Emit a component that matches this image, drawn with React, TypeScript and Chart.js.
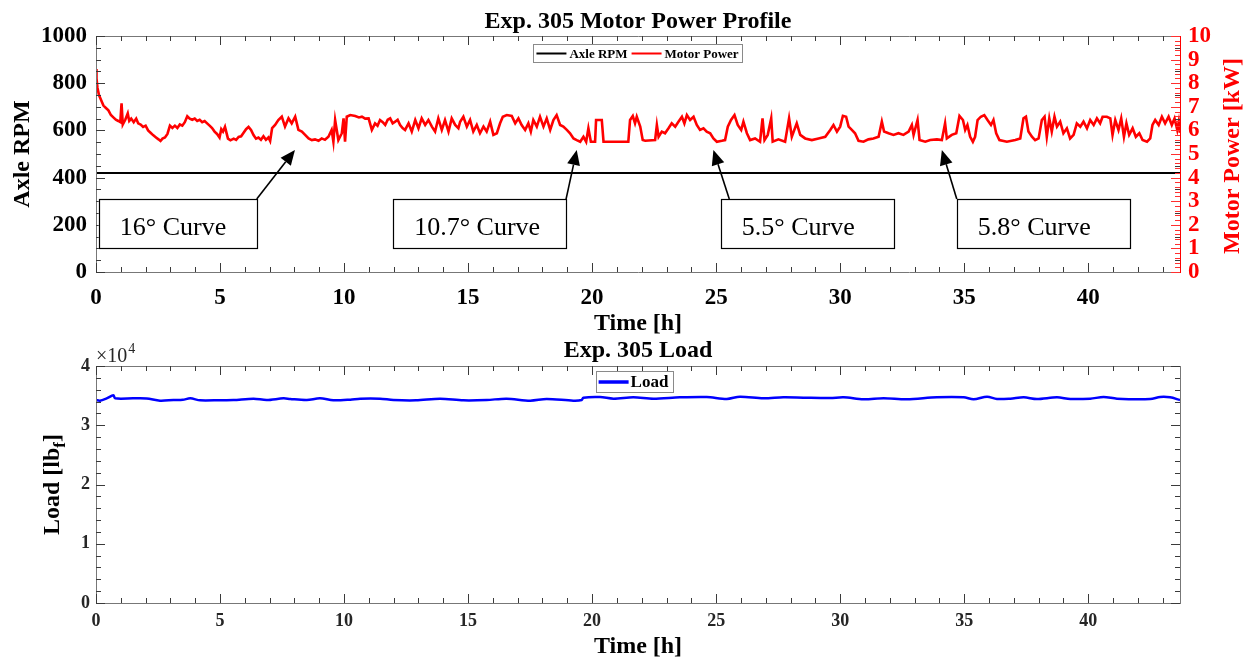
import React, { useEffect, useRef } from "react";
import { Chart, registerables } from "chart.js";

Chart.register(...registerables);

const SERIF = "'Liberation Serif', 'Times New Roman', Times, serif";

// ---------------- data ----------------
const timeMax = 43.7;

const axleRpmTime = [0, 43.7];
const axleRpmValues = [420, 420];

// Motor power [kW] vs time [h]
const motorPower: number[][] = [
  [0, 8.6], [0.02, 8.2], [0.06, 7.8], [0.12, 7.5], [0.2, 7.3], [0.3, 7.05], [0.4, 6.95], [0.5, 6.85], [0.6, 6.65],
  [0.7, 6.55], [0.8, 6.45], [0.9, 6.4], [0.98, 6.35], [1.03, 7.15], [1.08, 6.25], [1.18, 6.45], [1.28, 6.72],
  [1.34, 6.4], [1.42, 6.5], [1.52, 6.35], [1.62, 6.5], [1.7, 6.3], [1.8, 6.25], [1.9, 6.15], [2.0, 6.2], [2.1, 6.0],
  [2.2, 5.9], [2.3, 5.8], [2.42, 5.7], [2.52, 5.62], [2.6, 5.55], [2.68, 5.65], [2.78, 5.7], [2.88, 5.85], [2.98, 6.2],
  [3.08, 6.1], [3.18, 6.2], [3.28, 6.1], [3.38, 6.25], [3.48, 6.2], [3.58, 6.35], [3.68, 6.6], [3.78, 6.5], [3.88, 6.45],
  [3.98, 6.5], [4.08, 6.4], [4.18, 6.45], [4.28, 6.35], [4.38, 6.4], [4.48, 6.3], [4.58, 6.2], [4.68, 6.1], [4.78, 5.95],
  [4.88, 5.85], [4.98, 5.7], [5.05, 6.05], [5.12, 5.95], [5.2, 6.15], [5.32, 5.65], [5.42, 5.58], [5.55, 5.65],
  [5.65, 5.6], [5.75, 5.72], [5.85, 5.75], [5.95, 5.9], [6.05, 6.05], [6.15, 6.15], [6.25, 6.02], [6.35, 5.8],
  [6.45, 5.65], [6.55, 5.7], [6.65, 5.6], [6.75, 5.75], [6.85, 5.6], [6.95, 5.7], [7.02, 5.55], [7.1, 6.1],
  [7.22, 6.23], [7.35, 6.44], [7.49, 6.58], [7.62, 6.16], [7.76, 6.51], [7.89, 6.3], [8.03, 6.58], [8.16, 6.02],
  [8.3, 5.95], [8.43, 5.81], [8.57, 5.66], [8.7, 5.59], [8.83, 5.62], [8.97, 5.56], [9.1, 5.66], [9.23, 5.6],
  [9.37, 5.73], [9.5, 6.02], [9.57, 5.52], [9.64, 6.44], [9.77, 5.59], [9.91, 5.88], [9.98, 6.51], [10.04, 5.52],
  [10.11, 6.58], [10.25, 6.65], [10.45, 6.61], [10.6, 6.55], [10.72, 6.58], [10.85, 6.5], [10.99, 6.51], [11.12, 6.02],
  [11.25, 6.3], [11.35, 6.2], [11.45, 6.44], [11.56, 6.35], [11.66, 6.23], [11.76, 6.45], [11.86, 6.51], [11.96, 6.3],
  [12.06, 6.37], [12.16, 6.45], [12.26, 6.23], [12.36, 6.1], [12.46, 6.02], [12.6, 6.3], [12.73, 5.95], [12.87, 6.44],
  [13.0, 6.09], [13.13, 6.51], [13.27, 6.23], [13.4, 6.44], [13.54, 6.16], [13.67, 5.95], [13.8, 6.51], [13.94, 6.02],
  [14.07, 6.44], [14.21, 5.95], [14.34, 6.51], [14.48, 6.23], [14.61, 6.09],
  [14.68, 6.37], [14.81, 6.58], [14.95, 6.16], [15.08, 6.44], [15.21, 5.95], [15.35, 6.23], [15.48, 5.88], [15.62, 6.16],
  [15.75, 5.95], [15.89, 6.37], [16.02, 5.81], [16.16, 5.88], [16.29, 6.3], [16.4, 6.58], [16.56, 6.65], [16.76, 6.61],
  [16.9, 6.3], [17.03, 6.51], [17.16, 6.23], [17.3, 6.02], [17.43, 6.3], [17.53, 5.95], [17.63, 6.44], [17.77, 6.16],
  [17.9, 6.58], [18.04, 6.16], [18.17, 6.51], [18.31, 6.02], [18.44, 6.44], [18.57, 6.65], [18.71, 6.23], [18.84, 6.16],
  [18.98, 6.02], [19.11, 5.88], [19.25, 5.66], [19.38, 5.59], [19.52, 5.52], [19.65, 5.73], [19.76, 5.52], [19.85, 6.09],
  [19.95, 5.52], [20.12, 5.52], [20.16, 6.44], [20.39, 6.44], [20.46, 5.52], [21.0, 5.52], [21.46, 5.52], [21.53, 6.44],
  [21.64, 6.61], [21.73, 6.3], [21.8, 6.58], [21.94, 6.16], [22.04, 5.59],
  [22.14, 5.56], [22.54, 5.59], [22.61, 6.23], [22.68, 5.73], [22.81, 5.95], [22.94, 5.88], [23.08, 6.09], [23.21, 6.3],
  [23.35, 6.16], [23.48, 6.37], [23.62, 6.58], [23.72, 6.3], [23.82, 6.65], [23.95, 6.44], [24.09, 6.58], [24.22, 6.23],
  [24.35, 6.02], [24.49, 6.09], [24.62, 5.95], [24.76, 5.88], [24.89, 5.66], [25.03, 5.52], [25.23, 5.56], [25.36, 5.59],
  [25.47, 6.16], [25.6, 6.44], [25.74, 6.65], [25.87, 6.23], [26.01, 6.02], [26.1, 6.37], [26.24, 5.88], [26.37, 5.59],
  [26.57, 5.66], [26.77, 5.52], [26.87, 6.51], [26.95, 5.59], [27.08, 5.81], [27.22, 6.51], [27.28, 5.52], [27.51, 5.62],
  [27.78, 5.52], [27.94, 6.51], [28.05, 5.73], [28.25, 6.3], [28.39, 5.81], [28.59, 5.66], [28.86, 5.59], [29.13, 5.66],
  [29.4, 5.73], [29.6, 6.02],
  [29.73, 6.23], [29.87, 5.95], [30.0, 6.16], [30.11, 6.62], [30.24, 6.58], [30.34, 6.16], [30.47, 6.02], [30.6, 5.88],
  [30.74, 5.56], [30.94, 5.52], [31.14, 5.62], [31.34, 5.66], [31.55, 5.73], [31.68, 6.37], [31.77, 5.95], [31.95, 5.88],
  [32.15, 5.81], [32.35, 5.88], [32.55, 5.81], [32.76, 5.95], [32.89, 6.23], [32.96, 5.81], [33.12, 6.44], [33.2, 5.59],
  [33.43, 5.52], [33.63, 5.59], [33.9, 5.62], [34.1, 5.59], [34.23, 6.3], [34.3, 5.66], [34.5, 5.81], [34.68, 5.88],
  [34.81, 6.61], [34.95, 6.44], [35.04, 6.02], [35.13, 6.23], [35.24, 5.73], [35.35, 5.52], [35.44, 5.73], [35.54, 6.44],
  [35.67, 6.58], [35.81, 6.65], [35.94, 6.44], [36.08, 6.23], [36.18, 6.44], [36.29, 5.88], [36.42, 5.59], [36.72, 5.52],
  [37.06, 5.59],
  [37.26, 5.66], [37.39, 6.51], [37.49, 6.58], [37.59, 5.95], [37.73, 5.73], [37.86, 5.59], [38.0, 5.66], [38.13, 6.44],
  [38.24, 6.58], [38.33, 5.73], [38.43, 6.51], [38.53, 5.95], [38.64, 6.58], [38.74, 6.16], [38.87, 6.37], [39.0, 5.88],
  [39.14, 6.09], [39.27, 5.66], [39.41, 5.81], [39.54, 6.3], [39.68, 6.16], [39.81, 6.37], [39.95, 6.09], [40.08, 6.44],
  [40.22, 6.23], [40.35, 6.51], [40.48, 6.3], [40.58, 6.58], [40.75, 6.58], [40.89, 6.51], [40.98, 5.81], [41.09, 6.44],
  [41.22, 6.02], [41.33, 6.51], [41.44, 5.73], [41.54, 6.3], [41.65, 5.81], [41.79, 6.09], [41.92, 5.73], [42.06, 5.88],
  [42.19, 5.59], [42.37, 5.52], [42.5, 5.66], [42.59, 6.23], [42.7, 6.44], [42.84, 6.23], [42.97, 6.58], [43.1, 6.3],
  [43.24, 6.58], [43.37, 6.23], [43.48, 6.51], [43.59, 6.02], [43.65, 6.37], [43.7, 5.9],
];

// Load [lbf] vs time [h]
const loadData: number[][] = [
  [0, 34262], [0.16, 34150], [0.43, 34543], [0.7, 35050], [0.77, 34543], [1.5, 34543], [2.04, 34520], [2.58, 34150],
  [3.12, 34262], [3.5, 34300], [3.8, 34543], [4.2, 34206], [5.0, 34230], [5.54, 34262], [6.35, 34487], [6.88, 34262],
  [7.56, 34543], [7.83, 34430], [8.5, 34262], [9.03, 34543], [9.57, 34206], [10.25, 34318], [10.65, 34487],
  [11.45, 34487], [11.99, 34262], [12.9, 34206], [13.87, 34487], [14.81, 34206], [15.75, 34262], [16.55, 34487],
  [17.5, 34150], [18.17, 34430], [19.24, 34150], [19.58, 34262], [19.65, 34655], [20.32, 34768], [20.86, 34487],
  [21.66, 34712], [22.47, 34487], [23.54, 34712], [24.62, 34768], [25.43, 34430], [25.96, 34824], [26.9, 34543],
  [27.71, 34712], [28.52, 34655], [29.6, 34600], [30.14, 34712], [30.94, 34374], [31.75, 34543], [32.69, 34374],
  [33.9, 34712], [34.98, 34712], [35.38, 34374], [35.92, 34824], [36.32, 34430], [36.86, 34487], [37.4, 34712],
  [37.93, 34430], [38.74, 34712], [39.28, 34430], [40.08, 34487], [40.62, 34768], [41.16, 34487], [42.5, 34430],
  [42.9, 34768], [43.3, 34712], [43.7, 34262],
];

// Curve annotations (time [h] on x, RPM on left axis)
const curveNotes = [
  { text: "16° Curve", boxFrom: 0.11, boxTo: 6.48, tailX: 6.48, tipX: 8.02 },
  { text: "10.7° Curve", boxFrom: 11.98, boxTo: 18.95, tailX: 18.95, tipX: 19.38 },
  { text: "5.5° Curve", boxFrom: 25.19, boxTo: 32.15, tailX: 25.53, tipX: 24.89 },
  { text: "5.8° Curve", boxFrom: 34.7, boxTo: 41.66, tailX: 34.7, tipX: 34.1 },
];
const noteBoxRpm = [100, 309];
const noteTipRpm = 517;

// ---------------- drawing helpers ----------------
const BOX_COLOR = "#777777";
const TICK_COLOR = "#3a3a3a";

function tickValues(min: number, max: number, step: number) {
  const out: number[] = [];
  const n = Math.floor((max - min) / step + 1e-6);
  for (let i = 0; i <= n; i++) out.push(min + i * step);
  return out;
}

function drawXTicks(ctx: CanvasRenderingContext2D, chart: any, step: number, len: number) {
  const sx = chart.scales.x;
  const a = chart.chartArea;
  ctx.beginPath();
  for (const v of tickValues(sx.min, sx.max, step)) {
    const px = Math.round(sx.getPixelForValue(v)) + 0.5;
    ctx.moveTo(px, a.bottom);
    ctx.lineTo(px, a.bottom - len);
    ctx.moveTo(px, a.top);
    ctx.lineTo(px, a.top + len);
  }
  ctx.stroke();
}

function drawYTicks(ctx: CanvasRenderingContext2D, chart: any, id: string, step: number, len: number, left: boolean, right: boolean) {
  const sy = chart.scales[id];
  const a = chart.chartArea;
  ctx.beginPath();
  for (const v of tickValues(sy.min, sy.max, step)) {
    const py = Math.round(sy.getPixelForValue(v)) + 0.5;
    if (left) {
      ctx.moveTo(a.left, py);
      ctx.lineTo(a.left + len, py);
    }
    if (right) {
      ctx.moveTo(a.right, py);
      ctx.lineTo(a.right - len, py);
    }
  }
  ctx.stroke();
}

function rotatedText(ctx: CanvasRenderingContext2D, parts: { t: string; sub?: boolean }[], x: number, y: number, size: number, color: string) {
  ctx.save();
  ctx.translate(x, y);
  ctx.rotate(-Math.PI / 2);
  ctx.fillStyle = color;
  ctx.textBaseline = "middle";
  ctx.textAlign = "left";
  const widths = parts.map((p) => {
    ctx.font = `bold ${p.sub ? Math.round(size * 0.7) : size}px ${SERIF}`;
    return ctx.measureText(p.t).width;
  });
  const total = widths.reduce((s, w) => s + w, 0);
  let cx = -total / 2;
  parts.forEach((p, i) => {
    ctx.font = `bold ${p.sub ? Math.round(size * 0.7) : size}px ${SERIF}`;
    ctx.fillText(p.t, cx, p.sub ? size * 0.3 : 0);
    cx += widths[i];
  });
  ctx.restore();
}

function centeredText(ctx: CanvasRenderingContext2D, text: string, x: number, y: number, font: string, color: string, baseline: CanvasTextBaseline) {
  ctx.save();
  ctx.font = font;
  ctx.fillStyle = color;
  ctx.textAlign = "center";
  ctx.textBaseline = baseline;
  ctx.fillText(text, x, y);
  ctx.restore();
}

function drawArrow(ctx: CanvasRenderingContext2D, x0: number, y0: number, x1: number, y1: number) {
  const ang = Math.atan2(y1 - y0, x1 - x0);
  const headLen = 15;
  const headHalf = 6.5;
  const bx = x1 - headLen * Math.cos(ang);
  const by = y1 - headLen * Math.sin(ang);
  ctx.save();
  ctx.strokeStyle = "#000";
  ctx.fillStyle = "#000";
  ctx.lineWidth = 1.6;
  ctx.beginPath();
  ctx.moveTo(x0, y0);
  ctx.lineTo(bx, by);
  ctx.stroke();
  ctx.beginPath();
  ctx.moveTo(x1, y1);
  ctx.lineTo(bx + headHalf * Math.sin(ang), by - headHalf * Math.cos(ang));
  ctx.lineTo(bx - headHalf * Math.sin(ang), by + headHalf * Math.cos(ang));
  ctx.closePath();
  ctx.fill();
  ctx.restore();
}

const topDecor = {
  id: "topDecor",
  afterDatasetsDraw(chart: any) {
    const ctx: CanvasRenderingContext2D = chart.ctx;
    const a = chart.chartArea;
    const sx = chart.scales.x;
    const sy = chart.scales.y;
    ctx.save();
    // box
    ctx.strokeStyle = BOX_COLOR;
    ctx.lineWidth = 1;
    ctx.beginPath();
    ctx.moveTo(a.left + 0.5, a.bottom + 0.5);
    ctx.lineTo(a.left + 0.5, a.top + 0.5);
    ctx.lineTo(a.right + 0.5, a.top + 0.5);
    ctx.moveTo(a.left + 0.5, a.bottom + 0.5);
    ctx.lineTo(a.right + 0.5, a.bottom + 0.5);
    ctx.stroke();
    // ticks
    ctx.strokeStyle = TICK_COLOR;
    drawXTicks(ctx, chart, 5, 9);
    drawXTicks(ctx, chart, 1, 5);
    drawYTicks(ctx, chart, "y", 200, 9, true, true);
    drawYTicks(ctx, chart, "y", 50, 5, true, true);
    ctx.strokeStyle = "#ff3030";
    drawYTicks(ctx, chart, "y1", 1, 9, false, true);
    drawYTicks(ctx, chart, "y1", 0.2, 5, false, true);
    ctx.strokeStyle = "#ff0000";
    ctx.beginPath();
    ctx.moveTo(a.right + 0.5, a.top);
    ctx.lineTo(a.right + 0.5, a.bottom + 1);
    ctx.stroke();

    // legend
    const lf = `bold 13px ${SERIF}`;
    ctx.font = lf;
    const w1 = ctx.measureText("Axle RPM").width;
    const w2 = ctx.measureText("Motor Power").width;
    const lineLen = 30;
    const boxW = 3 + lineLen + 3 + w1 + 4 + lineLen + 3 + w2 + 4;
    const bx = (a.left + a.right) / 2 - boxW / 2;
    const by = a.top + 8;
    const bh = 18;
    ctx.fillStyle = "#fff";
    ctx.fillRect(bx, by, boxW, bh);
    ctx.strokeStyle = "#8a8a8a";
    ctx.strokeRect(Math.round(bx) + 0.5, Math.round(by) + 0.5, Math.round(boxW), bh);
    const ly = by + bh / 2 + 0.5;
    let cx = bx + 3;
    ctx.lineWidth = 2;
    ctx.strokeStyle = "#000";
    ctx.beginPath();
    ctx.moveTo(cx, ly);
    ctx.lineTo(cx + lineLen, ly);
    ctx.stroke();
    cx += lineLen + 3;
    ctx.fillStyle = "#000";
    ctx.textBaseline = "middle";
    ctx.textAlign = "left";
    ctx.fillText("Axle RPM", cx, ly + 1);
    cx += w1 + 4;
    ctx.strokeStyle = "#ff0000";
    ctx.beginPath();
    ctx.moveTo(cx, ly);
    ctx.lineTo(cx + lineLen, ly);
    ctx.stroke();
    cx += lineLen + 3;
    ctx.fillText("Motor Power", cx, ly + 1);

    // annotations
    const yTop = sy.getPixelForValue(noteBoxRpm[1]);
    const yBot = sy.getPixelForValue(noteBoxRpm[0]);
    const yTip = sy.getPixelForValue(noteTipRpm);
    for (const n of curveNotes) {
      const x0 = sx.getPixelForValue(n.boxFrom);
      const x1 = sx.getPixelForValue(n.boxTo);
      ctx.fillStyle = "#fff";
      ctx.fillRect(x0, yTop, x1 - x0, yBot - yTop);
      ctx.lineWidth = 1.2;
      ctx.strokeStyle = "#000";
      ctx.strokeRect(Math.round(x0) + 0.5, Math.round(yTop) + 0.5, Math.round(x1 - x0), Math.round(yBot - yTop));
      ctx.font = `26px ${SERIF}`;
      ctx.fillStyle = "#000";
      ctx.textAlign = "left";
      ctx.textBaseline = "alphabetic";
      ctx.fillText(n.text, x0 + 21, yBot - 13);
      drawArrow(ctx, sx.getPixelForValue(n.tailX), yTop, sx.getPixelForValue(n.tipX), yTip);
    }

    // titles
    centeredText(ctx, "Exp. 305 Motor Power Profile", (a.left + a.right) / 2, 28, `bold 24px ${SERIF}`, "#000", "alphabetic");
    centeredText(ctx, "Time [h]", (a.left + a.right) / 2, 324, `bold 24px ${SERIF}`, "#000", "middle");
    rotatedText(ctx, [{ t: "Axle RPM" }], 23, (a.top + a.bottom) / 2, 24, "#000");
    rotatedText(ctx, [{ t: "Motor Power [kW]" }], 1233, (a.top + a.bottom) / 2 + 2, 24, "#ff0000");
    ctx.restore();
  },
};

const bottomDecor = {
  id: "bottomDecor",
  afterDatasetsDraw(chart: any) {
    const ctx: CanvasRenderingContext2D = chart.ctx;
    const a = chart.chartArea;
    ctx.save();
    ctx.strokeStyle = BOX_COLOR;
    ctx.lineWidth = 1;
    ctx.strokeRect(a.left + 0.5, a.top + 0.5, a.right - a.left, a.bottom - a.top);
    ctx.strokeStyle = TICK_COLOR;
    drawXTicks(ctx, chart, 5, 9);
    drawXTicks(ctx, chart, 1, 5);
    drawYTicks(ctx, chart, "y", 10000, 9, true, true);
    drawYTicks(ctx, chart, "y", 2000, 5, true, true);

    // legend
    ctx.font = `bold 17px ${SERIF}`;
    const w = ctx.measureText("Load").width;
    const lineLen = 30;
    const boxW = 3 + lineLen + 2 + w + 4;
    const bx = (a.left + a.right) / 2 - 4 - boxW / 2;
    const by = a.top + 5;
    const bh = 21;
    ctx.fillStyle = "#fff";
    ctx.fillRect(bx, by, boxW, bh);
    ctx.strokeStyle = "#8a8a8a";
    ctx.lineWidth = 1;
    ctx.strokeRect(Math.round(bx) + 0.5, Math.round(by) + 0.5, Math.round(boxW), bh);
    const ly = by + bh / 2 + 0.5;
    ctx.strokeStyle = "#0000ff";
    ctx.lineWidth = 3.5;
    ctx.beginPath();
    ctx.moveTo(bx + 3, ly);
    ctx.lineTo(bx + 3 + lineLen, ly);
    ctx.stroke();
    ctx.fillStyle = "#000";
    ctx.textAlign = "left";
    ctx.textBaseline = "middle";
    ctx.fillText("Load", bx + 3 + lineLen + 2, ly + 1);

    // exponent label
    ctx.font = `20px ${SERIF}`;
    ctx.textBaseline = "alphabetic";
    ctx.fillStyle = "#262626";
    ctx.fillText("×10", a.left, a.top - 4);
    const wx = ctx.measureText("×10").width;
    ctx.font = `14px ${SERIF}`;
    ctx.fillText("4", a.left + wx + 1, a.top - 13);

    centeredText(ctx, "Exp. 305 Load", (a.left + a.right) / 2, 27, `bold 24px ${SERIF}`, "#000", "alphabetic");
    centeredText(ctx, "Time [h]", (a.left + a.right) / 2, 317, `bold 24px ${SERIF}`, "#000", "middle");
    rotatedText(ctx, [{ t: "Load [lb" }, { t: "f", sub: true }, { t: "]" }], 53, (a.top + a.bottom) / 2, 24, "#000");
    ctx.restore();
  },
};

export default function App() {
  const topRef = useRef<HTMLCanvasElement | null>(null);
  const botRef = useRef<HTMLCanvasElement | null>(null);

  useEffect(() => {
    const tickFontTop = { family: SERIF, size: 23, weight: "bold" as const };
    const tickFontBot = { family: SERIF, size: 18, weight: "bold" as const };
    const hiddenGrid = { drawOnChartArea: false, drawTicks: false };
    const plain = (v: any) => String(v);

    const top = new Chart(topRef.current as HTMLCanvasElement, {
      type: "line",
      data: {
        datasets: [
          {
            label: "Axle RPM",
            data: axleRpmTime.map((t, i) => ({ x: t, y: axleRpmValues[i] })),
            borderColor: "#000000",
            borderWidth: 2,
            pointRadius: 0,
            yAxisID: "y",
          },
          {
            label: "Motor Power",
            data: motorPower.map(([t, p]) => ({ x: t, y: p })),
            borderColor: "#ff0000",
            borderWidth: 2.6,
            pointRadius: 0,
            tension: 0,
            yAxisID: "y1",
          },
        ],
      },
      options: {
        animation: false,
        responsive: false,
        maintainAspectRatio: false,
        layout: { padding: { top: 36, left: 0, right: 0, bottom: 0 } },
        plugins: { legend: { display: false }, tooltip: { enabled: false }, title: { display: false } },
        scales: {
          x: {
            type: "linear",
            min: 0,
            max: timeMax,
            afterFit: (s: any) => { s.height = 73; },
            grid: hiddenGrid,
            border: { display: false },
            ticks: { stepSize: 5, includeBounds: false, autoSkip: false, maxRotation: 0, padding: 12, color: "#000", font: tickFontTop, callback: plain },
          },
          y: {
            type: "linear",
            position: "left",
            min: 0,
            max: 1000,
            afterFit: (s: any) => { s.width = 96; },
            grid: hiddenGrid,
            border: { display: false },
            ticks: { stepSize: 200, autoSkip: false, padding: 9, color: "#000", font: tickFontTop, callback: plain },
          },
          y1: {
            type: "linear",
            position: "right",
            min: 0,
            max: 10,
            afterFit: (s: any) => { s.width = 69; },
            grid: hiddenGrid,
            border: { display: false },
            ticks: { stepSize: 1, autoSkip: false, padding: 8, color: "#ff0000", font: tickFontTop, callback: plain },
          },
        },
      } as any,
      plugins: [topDecor],
    });

    const bottom = new Chart(botRef.current as HTMLCanvasElement, {
      type: "line",
      data: {
        datasets: [
          {
            label: "Load",
            data: loadData.map(([t, l]) => ({ x: t, y: l })),
            borderColor: "#0000ff",
            borderWidth: 2.5,
            pointRadius: 0,
            tension: 0.3,
          },
        ],
      },
      options: {
        animation: false,
        responsive: false,
        maintainAspectRatio: false,
        layout: { padding: { top: 36, left: 0, right: 69, bottom: 0 } },
        plugins: { legend: { display: false }, tooltip: { enabled: false }, title: { display: false } },
        scales: {
          x: {
            type: "linear",
            min: 0,
            max: timeMax,
            afterFit: (s: any) => { s.height = 57; },
            grid: hiddenGrid,
            border: { display: false },
            ticks: { stepSize: 5, includeBounds: false, autoSkip: false, maxRotation: 0, padding: 8, color: "#262626", font: tickFontBot, callback: plain },
          },
          y: {
            type: "linear",
            min: 0,
            max: 40000,
            afterFit: (s: any) => { s.width = 96; },
            grid: hiddenGrid,
            border: { display: false },
            ticks: {
              stepSize: 10000,
              autoSkip: false,
              padding: 6,
              color: "#262626",
              font: tickFontBot,
              callback: (v: any) => String(Number(v) / 10000),
            },
          },
        },
      } as any,
      plugins: [bottomDecor],
    });

    return () => {
      top.destroy();
      bottom.destroy();
    };
  }, []);

  return (
    <div style={{ position: "absolute", left: 0, top: 0, width: 1249, height: 660, background: "#fff" }}>
      <canvas ref={topRef} width={1249} height={345} style={{ position: "absolute", left: 0, top: 0, width: 1249, height: 345 }} />
      <canvas ref={botRef} width={1249} height={330} style={{ position: "absolute", left: 0, top: 330, width: 1249, height: 330 }} />
    </div>
  );
}
